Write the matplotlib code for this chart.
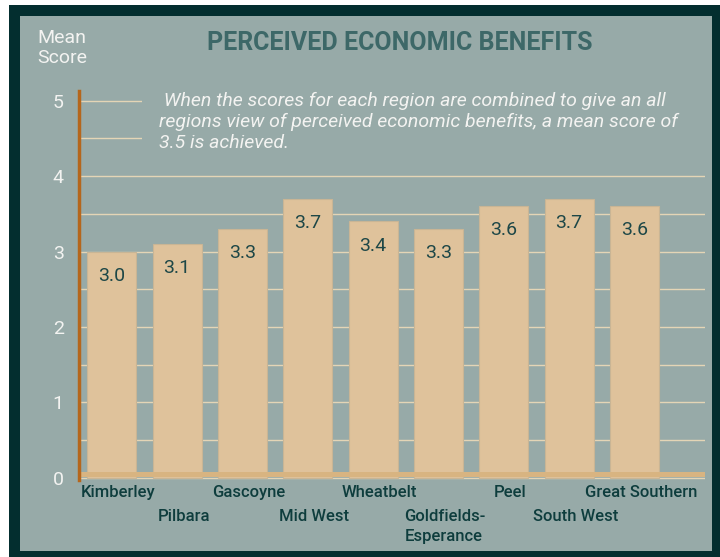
import matplotlib
matplotlib.use("Agg")
import matplotlib.pyplot as plt
from matplotlib.patches import Rectangle
import numpy as np

# ---- data ----
regions = ["Kimberley", "Pilbara", "Gascoyne", "Mid West", "Wheatbelt",
           "Goldfields-\nEsperance", "Peel", "South West", "Great Southern"]
scores = [3.0, 3.1, 3.3, 3.7, 3.4, 3.3, 3.6, 3.7, 3.6]
score_labels = ["3.0", "3.1", "3.3", "3.7", "3.4", "3.3", "3.6", "3.7", "3.6"]
label_row = [0, 1, 0, 1, 0, 1, 0, 1, 0]
yticks = [0, 1, 2, 3, 4, 5]
title = "PERCEIVED ECONOMIC BENEFITS"
note = (" When the scores for each region are combined to give an all\n"
        "regions view of perceived economic benefits, a mean score of\n"
        "3.5 is achieved.")

# ---- style ----
W, H = 720, 557
BG = "#97aaa8"
BORDER = "#032e2f"
BAR = "#dfc29b"
BAR_EDGE = "#c9b595"
FLOOR = "#d8b481"
GRID = "#e4d5b6"
AXIS = "#b5661c"
DARK = "#0e3d3d"
TITLE_C = "#3d6868"
WHITE = "#f3f3f1"
FONT = ["Roboto", "DejaVu Sans"]

plt.rcParams["font.family"] = FONT

fig = plt.figure(figsize=(W / 100, H / 100), dpi=100, facecolor="white")


def fx(px):
    return px / W


def fy(py):
    return 1 - py / H


# frame
fig.patches.append(Rectangle((fx(9), fy(557)), fx(720) - fx(9), fy(5) - fy(557),
                             transform=fig.transFigure, facecolor=BORDER,
                             edgecolor="none", zorder=-3))
fig.patches.append(Rectangle((fx(20), fy(551)), fx(712) - fx(20), fy(16) - fy(551),
                             transform=fig.transFigure, facecolor=BG,
                             edgecolor="none", zorder=-2))

ax = fig.add_axes([fx(79), fy(480), fx(705) - fx(79), fy(91) - fy(480)])
ax.set_facecolor("none")

x = np.arange(len(regions))
ax.bar(x, scores, width=0.75, color=BAR, edgecolor=BAR_EDGE, linewidth=0.8, zorder=2)
ax.axhspan(0.01, 0.08, color=FLOOR, zorder=3, lw=0)

ax.set_xlim(-0.5, 9.08)
ax.set_ylim(-0.03, 5.13)

ax.set_yticks(yticks)
ax.set_yticks(np.arange(0.5, 5.01, 1.0), minor=True)
ax.grid(which="both", axis="y", color=GRID, linewidth=1.0, zorder=1)
ax.set_axisbelow(True)
ax.tick_params(axis="y", which="both", length=0, pad=11, labelsize=14, labelcolor=WHITE)
ax.set_yticklabels([str(t) for t in yticks])
ax.set_xticks([])
for s in ["top", "right", "bottom"]:
    ax.spines[s].set_visible(False)
ax.spines["left"].set_color(AXIS)
ax.spines["left"].set_linewidth(2.5)
ax.spines["left"].set_zorder(5)

# value labels inside bars
for xi, v, lab in zip(x, scores, score_labels):
    ax.text(xi, v - 0.32, lab, ha="center", va="center", fontsize=14,
            color="#1d4747", zorder=4)

# category labels (staggered)
for xi, name, row in zip(x, regions, label_row):
    ty = -0.1 if row == 0 else -0.42
    ax.text(xi + 0.1, ty, name, ha="center", va="top", fontsize=12,
            fontweight="medium", color=DARK, clip_on=False, linespacing=1.35,
            multialignment="left")

# y-axis title
fig.text(fx(62), fy(48), "Mean\nScore", ha="center", va="center", fontsize=14,
         color=WHITE, linespacing=1.15)

# chart title
fig.text(fx(400), fy(43), title, ha="center", va="center", fontsize=18,
         fontweight="bold", color=TITLE_C)

# note box covering grid lines
fig.patches.append(Rectangle((fx(142), fy(160)), fx(705) - fx(142), fy(88) - fy(160),
                             transform=fig.transFigure, facecolor=BG,
                             edgecolor="none", zorder=2))
fig.text(fx(159), fy(92), note, ha="left", va="top", fontsize=14,
         fontstyle="italic", color=WHITE, linespacing=1.2, zorder=3)

fig.savefig("out.png", dpi=100, facecolor="white")
